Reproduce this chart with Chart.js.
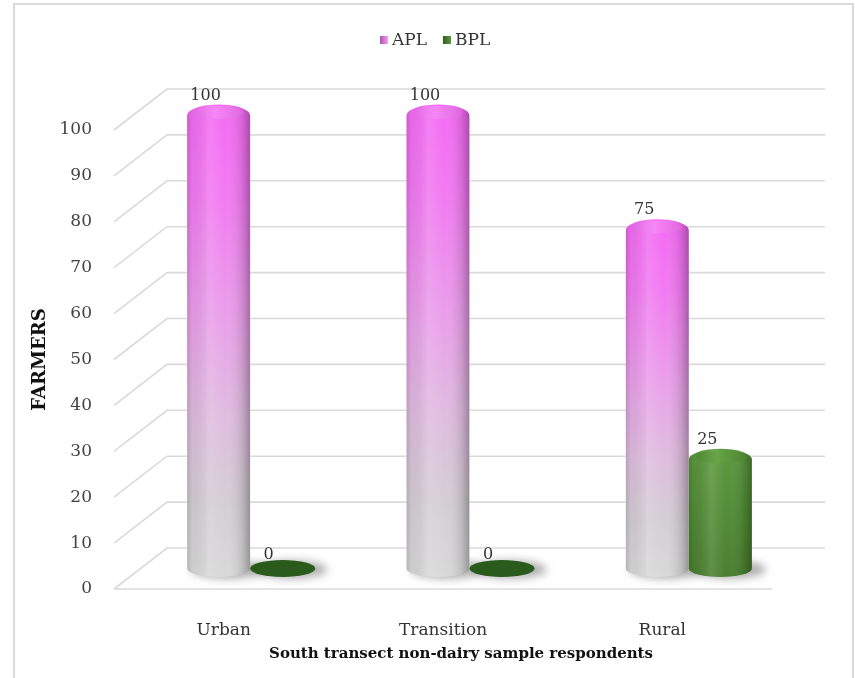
<!DOCTYPE html>
<html>
<head>
<meta charset="utf-8">
<script src="https://cdn.jsdelivr.net/npm/chart.js@4.4.1/dist/chart.umd.min.js"></script>
<style>
  html, body { margin: 0; padding: 0; background: #ffffff; }
  #wrap { width: 855px; height: 678px; position: relative; }
</style>
</head>
<body>
<div id="wrap"><canvas id="chart" width="855" height="678"></canvas></div>
<script>
// Farmers by location, south transect non-dairy respondents
const categories = ['Urban', 'Transition', 'Rural'];
const seriesNames = ['APL', 'BPL'];
const aplFarmers = [100, 100, 75];
const bplFarmers = [0, 0, 25];
const xTitle = 'South transect non-dairy sample respondents';
const yTitle = 'FARMERS';

// 3D look: the plot area is the front plane, the back wall is shifted up-right
const DEPTH_X = 53;
const DEPTH_Y = -41;
const SERIF = '"DejaVu Serif", "Liberation Serif", serif';

const palettes = [
  { // APL: magenta fading to silver
    stops: [[0, '#f46af4'], [0.2, '#f27bf2'], [0.47, '#e9a2e9'], [0.66, '#dfbddf'], [0.85, '#d4cfd4'], [1, '#d9d9d9']],
    cap: '#f78cf7', capEdge: '#d860d8', disc: '#c060c0',
    legend: ['#b050b0', '#f0a0f0']
  },
  { // BPL: green
    stops: [[0, '#5c9a3e'], [0.5, '#528c36'], [1, '#4a7f2f']],
    cap: '#66a646', capEdge: '#437a2a', disc: '#2a5a1c',
    legend: ['#2f5c1d', '#5e9a40']
  }
];

function shadeOverlay(ctx, left, w) {
  const g = ctx.createLinearGradient(left, 0, left + w, 0);
  g.addColorStop(0, 'rgba(0,0,0,0.16)');
  g.addColorStop(0.08, 'rgba(0,0,0,0.05)');
  g.addColorStop(0.35, 'rgba(255,255,255,0.12)');
  g.addColorStop(0.6, 'rgba(255,255,255,0.0)');
  g.addColorStop(0.88, 'rgba(0,0,0,0.12)');
  g.addColorStop(1, 'rgba(0,0,0,0.30)');
  return g;
}

function cylinderPath(ctx, cx, top, base, rx, ry) {
  const domeC = top + 6;
  ctx.beginPath();
  ctx.moveTo(cx - rx, domeC);
  ctx.lineTo(cx - rx, base);
  ctx.ellipse(cx, base, rx, ry, 0, Math.PI, 0, true);
  ctx.lineTo(cx + rx, domeC);
  ctx.ellipse(cx, domeC, rx, 11, 0, 0, Math.PI, true);
  ctx.closePath();
}

function drawCylinder(ctx, cx, top, base, w, pal) {
  const rx = w / 2, ry = 8.5;
  if (base - top < 1) {
    ctx.beginPath();
    ctx.ellipse(cx + 1, base, rx + 1, ry, 0, 0, Math.PI * 2);
    ctx.fillStyle = pal.disc;
    ctx.fill();
    return;
  }
  ctx.save();
  cylinderPath(ctx, cx, top, base, rx, ry);
  const vg = ctx.createLinearGradient(0, top - 5, 0, base + ry);
  pal.stops.forEach(s => vg.addColorStop(s[0], s[1]));
  ctx.fillStyle = vg;
  ctx.fill();
  ctx.clip();
  ctx.fillStyle = shadeOverlay(ctx, cx - rx, w);
  ctx.fillRect(cx - rx, top - 20, w, base - top + 40);
  // top cap face
  const cg = ctx.createLinearGradient(cx - rx, 0, cx + rx, 0);
  cg.addColorStop(0, pal.capEdge);
  cg.addColorStop(0.45, pal.cap);
  cg.addColorStop(1, pal.capEdge);
  ctx.beginPath();
  ctx.ellipse(cx, top + 3, rx - 7, 6.5, 0, 0, Math.PI * 2);
  ctx.fillStyle = cg;
  ctx.globalAlpha = 0.75;
  ctx.fill();
  ctx.restore();
}

function drawShadow(ctx, cx, base, w) {
  ctx.save();
  ctx.filter = 'blur(4px)';
  ctx.fillStyle = 'rgba(70,70,70,0.45)';
  ctx.beginPath();
  ctx.ellipse(cx + 9, base + 1, w / 2 + 5, 9, 0, 0, Math.PI * 2);
  ctx.fill();
  ctx.restore();
}

const depthPlugin = {
  id: 'depthPlugin',
  beforeDraw(chart) {
    const ctx = chart.ctx;
    ctx.save();
    ctx.fillStyle = '#ffffff';
    ctx.fillRect(0, 0, chart.width, chart.height);
    ctx.strokeStyle = '#d9d9de';
    ctx.lineWidth = 2;
    ctx.strokeRect(14, 4, chart.width - 16, chart.height + 20);
    ctx.restore();
  },
  beforeDatasetsDraw(chart) {
    const ctx = chart.ctx;
    const y = chart.scales.y;
    const area = chart.chartArea;
    ctx.save();
    ctx.strokeStyle = '#dadada';
    ctx.lineWidth = 1.6;
    y.ticks.forEach(t => {
      const py = y.getPixelForValue(t.value);
      ctx.beginPath();
      ctx.moveTo(area.left, py);
      ctx.lineTo(area.left + DEPTH_X, py + DEPTH_Y);
      ctx.lineTo(area.right + DEPTH_X, py + DEPTH_Y);
      ctx.stroke();
    });
    const py0 = y.getPixelForValue(0);
    ctx.beginPath();
    ctx.moveTo(area.left, py0);
    ctx.lineTo(area.right, py0);
    ctx.stroke();
    ctx.restore();
  },
  afterDatasetsDraw(chart) {
    const ctx = chart.ctx;
    const bars = [];
    chart.data.datasets.forEach((ds, i) => {
      const meta = chart.getDatasetMeta(i);
      meta.data.forEach((el, j) => {
        const p = el.getProps(['x', 'y', 'base', 'width'], true);
        bars.push({
          cx: p.x + DEPTH_X / 2,
          top: p.y + DEPTH_Y / 2,
          base: p.base + DEPTH_Y / 2,
          w: p.width,
          pal: palettes[i],
          value: ds.data[j]
        });
      });
    });
    bars.forEach(b => drawShadow(ctx, b.cx, b.base, b.w));
    bars.forEach(b => drawCylinder(ctx, b.cx, b.top, b.base, b.w, b.pal));
    ctx.save();
    ctx.fillStyle = '#333333';
    ctx.font = '16px ' + SERIF;
    ctx.textAlign = 'center';
    ctx.textBaseline = 'middle';
    bars.forEach(b => ctx.fillText(String(b.value), b.cx - 13, b.top - 14));
    ctx.restore();
  },
  afterDraw(chart) {
    const ctx = chart.ctx;
    const area = chart.chartArea;
    ctx.save();
    // legend
    ctx.font = '17px ' + SERIF;
    ctx.textBaseline = 'middle';
    ctx.textAlign = 'left';
    let lx = 380;
    const ly = 40;
    seriesNames.forEach((name, i) => {
      const g = ctx.createLinearGradient(lx, 0, lx + 8, 0);
      g.addColorStop(0, palettes[i].legend[0]);
      g.addColorStop(1, palettes[i].legend[1]);
      ctx.fillStyle = g;
      ctx.fillRect(lx, ly - 4, 8, 8);
      ctx.fillStyle = '#333333';
      ctx.fillText(name, lx + 12, ly + 1);
      lx += 12 + ctx.measureText(name).width + 16;
    });
    // x-axis title
    ctx.font = 'bold 15px ' + SERIF;
    ctx.textAlign = 'center';
    ctx.fillStyle = '#111111';
    ctx.fillText(xTitle, (area.left + area.right) / 2 + 18, 654);
    ctx.restore();
  }
};

new Chart(document.getElementById('chart'), {
  type: 'bar',
  data: {
    labels: categories,
    datasets: [
      { label: seriesNames[0], data: aplFarmers, backgroundColor: 'rgba(0,0,0,0)', borderWidth: 0 },
      { label: seriesNames[1], data: bplFarmers, backgroundColor: 'rgba(0,0,0,0)', borderWidth: 0 }
    ]
  },
  options: {
    responsive: false,
    animation: false,
    layout: { padding: { left: 0, top: 130, right: 83, bottom: 0 } },
    plugins: { legend: { display: false }, tooltip: { enabled: false } },
    datasets: { bar: { categoryPercentage: 0.575, barPercentage: 1 } },
    scales: {
      x: {
        grid: { display: false },
        border: { display: false },
        ticks: { font: { family: SERIF, size: 17 }, color: '#333333', padding: 23 },
        afterFit(scale) { scale.height = 89; }
      },
      y: {
        min: 0, max: 100,
        grid: { display: false, drawTicks: false },
        border: { display: false },
        ticks: { stepSize: 10, font: { family: SERIF, size: 17 }, color: '#444444', padding: 22 },
        title: { display: true, text: yTitle, font: { family: SERIF, size: 18, weight: 'bold' }, color: '#111111', padding: { top: 30 } },
        afterFit(scale) { scale.width = 114; }
      }
    }
  },
  plugins: [depthPlugin]
});
</script>
</body>
</html>
